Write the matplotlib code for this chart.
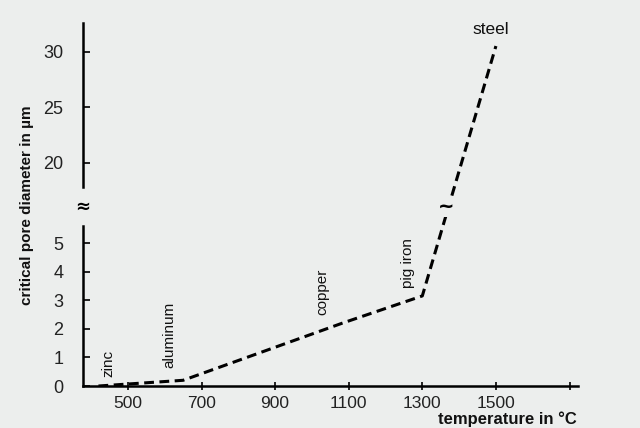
import numpy as np
import matplotlib
matplotlib.use('Agg')
import matplotlib.pyplot as plt
import matplotlib as mpl
mpl.rcParams.update({'font.family': ['Liberation Sans', 'DejaVu Sans']})

# data
metals = ['zinc', 'aluminum', 'copper', 'pig iron', 'steel']
temps = [420, 650, 1083, 1300, 1500]
pores = [0.0, 0.2, 2.2, 3.15, 30.5]
xticks = [500, 700, 900, 1100, 1300, 1500, 1700]
xlabels = ['500', '700', '900', '1100', '1300', '1500', '']
yticks = [0, 1, 2, 3, 4, 5, 20, 25, 30]

# label offsets (points) from each point
offs = [(6.8, 6.5), (-10, 8.6), (-14.4, 5.8), (-10, 5.8), (-3.6, 12)]

# broken y axis
LOW_TOP = 5.6
UP_BOT = 17.8
UP_TOP = 32.6
GAP = 1.36
R = 0.388

def fwd(y):
    y = np.asarray(y, float)
    mid = LOW_TOP + (y - LOW_TOP) / (UP_BOT - LOW_TOP) * GAP
    up = LOW_TOP + GAP + (y - UP_BOT) * R
    return np.where(y <= LOW_TOP, y, np.where(y >= UP_BOT, up, mid))

def inv(t):
    t = np.asarray(t, float)
    mid = LOW_TOP + (t - LOW_TOP) / GAP * (UP_BOT - LOW_TOP)
    up = UP_BOT + (t - LOW_TOP - GAP) / R
    return np.where(t <= LOW_TOP, t, np.where(t >= LOW_TOP + GAP, up, mid))

bg = '#eceeed'
fig = plt.figure(figsize=(6.4, 4.28), dpi=100, facecolor=bg)
ax = fig.add_axes([0.1297, 0.0981, 0.7734, 0.8785])
ax.set_facecolor('none')
ax.set_yscale('function', functions=(fwd, inv))
ax.set_xlim(378, 1723)
ax.set_ylim(0, float(inv(13.147)))

ax.plot(temps, pores, color='k', lw=2.2, ls=(0, (3.2, 1.8)), solid_capstyle='butt')

for m, t, p, o in zip(metals, temps, pores, offs):
    if m == 'steel':
        ax.annotate(m, (t, p), xytext=o, textcoords='offset points',
                    ha='center', va='center', fontsize=12.5, color='#111')
    else:
        ax.annotate(m, (t, p), xytext=o, textcoords='offset points',
                    ha='center', va='bottom', rotation=90, fontsize=11, color='#111')

# spines
for s in ['top', 'right', 'left']:
    ax.spines[s].set_visible(False)
ax.spines['bottom'].set_linewidth(1.8)
yt = ax.get_yaxis_transform()
ax.plot([0, 0], [0, LOW_TOP], transform=yt, color='k', lw=1.8, clip_on=False)
ax.plot([0, 0], [UP_BOT, UP_TOP], transform=yt, color='k', lw=1.8, clip_on=False)

# break marks
ymid = (LOW_TOP + UP_BOT) / 2
ax.text(0, ymid, '≈', transform=yt, ha='center', va='center', fontsize=13,
        fontweight='bold', family='DejaVu Sans')
fa, fb = fwd(pores[3]), fwd(pores[4])
xm = temps[3] + (fwd(ymid) - fa) / (fb - fa) * (temps[4] - temps[3])
ax.text(xm - 8, ymid, '~', ha='center', va='center', fontsize=14, fontweight='bold',
        family='DejaVu Sans', bbox=dict(fc=bg, ec='none', pad=0.5))

ax.set_xticks(xticks)
ax.set_xticklabels(xlabels)
ax.set_yticks(yticks)
ax.set_yticklabels([str(v) for v in yticks])
ax.minorticks_off()
ax.tick_params(axis='x', direction='inout', length=6, width=1.2, pad=4, labelsize=12.5, labelcolor='#222')
ax.tick_params(axis='y', direction='in', length=5, width=1.2, pad=14, labelsize=13, labelcolor='#222')

fig.text(27 / 640, 1 - 205 / 428, 'critical pore diameter in µm', rotation=90,
         ha='center', va='center', fontsize=11, fontweight='bold', color='#111')
fig.text(577 / 640, 0.003, 'temperature in °C', ha='right', va='bottom',
         fontsize=12, fontweight='bold', color='#111')

fig.savefig('out.png', dpi=100, facecolor=bg)
